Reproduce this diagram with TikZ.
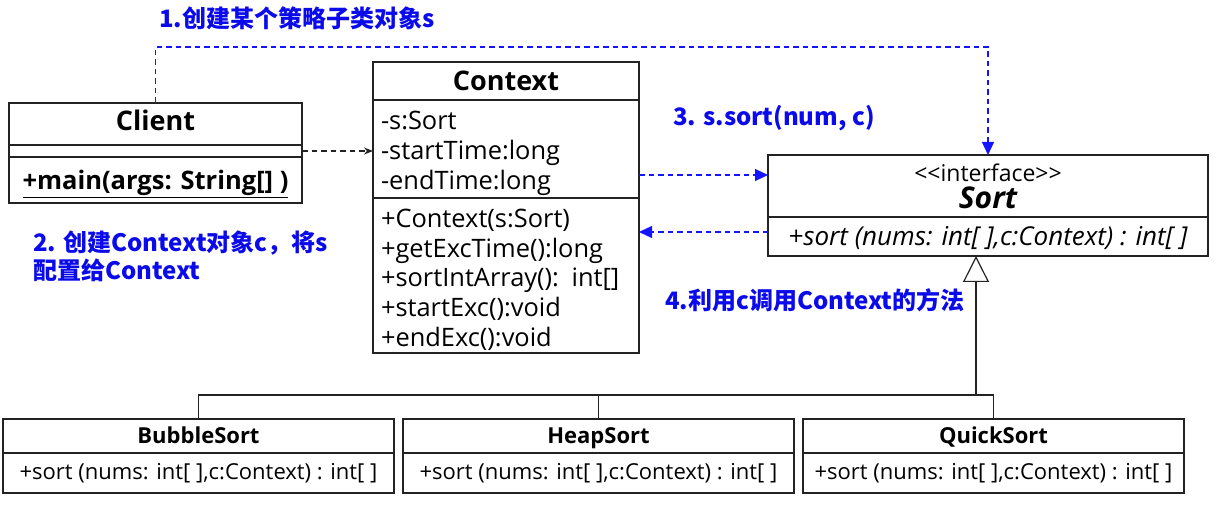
\documentclass[tikz,border=0pt]{standalone}
\usepackage{fontspec}
\setmainfont{Open Sans}
\newfontfamily\cjk{Noto Sans CJK SC}
\usetikzlibrary{arrows.meta}
\definecolor{lbl}{RGB}{10,10,235}
\definecolor{ln}{RGB}{35,35,35}
\definecolor{arr}{RGB}{20,20,255}
\newcommand{\fs}[2]{\fontsize{#1}{#2}\selectfont}
\begin{document}
\begin{tikzpicture}[x=1pt,y=-1pt,
  box/.style={draw=ln, line width=1.1pt, anchor=north west, inner sep=0pt, outer sep=0pt},
  lab/.style={anchor=west, inner sep=0pt, text=lbl, font=\cjk\bfseries\fs{24}{28}},
  bluedash/.style={draw=arr, line width=1.2pt, dash pattern=on 5.5pt off 4pt, -{Triangle[length=13pt,width=12pt]}},
  blackdash/.style={draw=ln, line width=1.1pt, dash pattern=on 5.5pt off 4pt, -{Stealth[length=9pt,width=7pt]}},
  gen/.style={draw=ln, line width=1.2pt}
]
\useasboundingbox (0,0) rectangle (1219,505);

% Client
\node[box, text height=13pt, text depth=0pt, minimum width=293pt, minimum height=42pt, font=\bfseries\fs{27}{30}] (clt) at (9,103) {Client};
\node[box, minimum width=293pt, minimum height=12pt] (cla) at (9,145) {};
\node[box, text height=20pt, text depth=0pt, minimum width=293pt, minimum height=46pt, font=\bfseries\fs{25.5}{28}] (clm) at (9,157) {\underline{+main(args: String[] )}};

% Context
\node[box, minimum width=266pt, minimum height=38pt, font=\bfseries\fs{27}{30}] (cxt) at (373,62) {Context};
\node[box, minimum height=98pt, text width=250pt, inner xsep=8pt, align=left, font=\fs{25.4}{29.6}] (cxa) at (373,100) {\rule{0pt}{27pt}-s:Sort\\-startTime:long\\-endTime:long};
\node[box, minimum height=155pt, text width=250pt, inner xsep=8pt, align=left, font=\fs{25.4}{29.6}] (cxo) at (373,198) {\rule{0pt}{27pt}+Context(s:Sort)\\+getExcTime():long\\+sortIntArray(): int[]\\+startExc():void\\+endExc():void};

% Sort interface
\node[box, minimum width=440pt, minimum height=62pt, align=center, font=\fs{23}{27}] (srt) at (768,155) {<{}<interface>{}>\\{\bfseries\itshape\fs{30}{27}Sort}};
\node[box, text height=18.5pt, text depth=0pt, minimum width=440pt, minimum height=39pt, font=\itshape\fs{26}{28}] (sro) at (768,217) {+sort (nums: int[ ],c:Context) : int[ ]};

% Concrete classes
\node[box, text height=15.7pt, text depth=0pt, minimum width=391pt, minimum height=34pt, font=\bfseries\fs{22}{26}] (bbt) at (3,419) {BubbleSort};
\node[box, minimum width=391pt, minimum height=40pt, font=\fs{22}{26}] (bbo) at (3,453) {+sort (nums: int[ ],c:Context) : int[ ]};
\node[box, text height=15.7pt, text depth=0pt, minimum width=391pt, minimum height=34pt, font=\bfseries\fs{22}{26}] (hpt) at (403,419) {HeapSort};
\node[box, minimum width=391pt, minimum height=40pt, font=\fs{22}{26}] (hpo) at (403,453) {+sort (nums: int[ ],c:Context) : int[ ]};
\node[box, text height=15.7pt, text depth=0pt, minimum width=381pt, minimum height=34pt, font=\bfseries\fs{22}{26}] (qkt) at (803,419) {QuickSort};
\node[box, minimum width=381pt, minimum height=40pt, font=\fs{22}{26}] (qko) at (803,453) {+sort (nums: int[ ],c:Context) : int[ ]};

% Labels
\node[lab] (l1) at (159,18) {1.创建某个策略子类对象s};
\node[lab, align=left] (l2) at (33,256) {2. 创建Context对象c，将s\\配置给Context};
\node[lab] (l3) at (673,118) {3. s.sort(num, c)};
\node[lab] (l4) at (665,300) {4.利用c调用Context的方法};

% Connectors
\coordinate (top) at (0,47);
\draw[bluedash] (clt.north) |- (top -| srt.north) -- (srt.north);
\draw[blackdash] (cla.east) -- (cla.east -| cxa.west);
\draw[bluedash] ([yshift=-26pt]cxa.east) coordinate (a3) -- (a3 -| srt.west);
\draw[bluedash] ([yshift=4.5pt]sro.west) coordinate (a4) -- (a4 -| cxo.east);

% Generalization
\coordinate (bus) at (976,395);
\draw[gen] (bbt.north) |- (bus) -| (qkt.north);
\draw[gen] (hpt.north) -- (hpt.north |- bus);
\draw[gen, -{Triangle[open, length=26pt, width=26pt, fill=white]}] (bus) -- (bus |- sro.south);
\end{tikzpicture}
\end{document}
